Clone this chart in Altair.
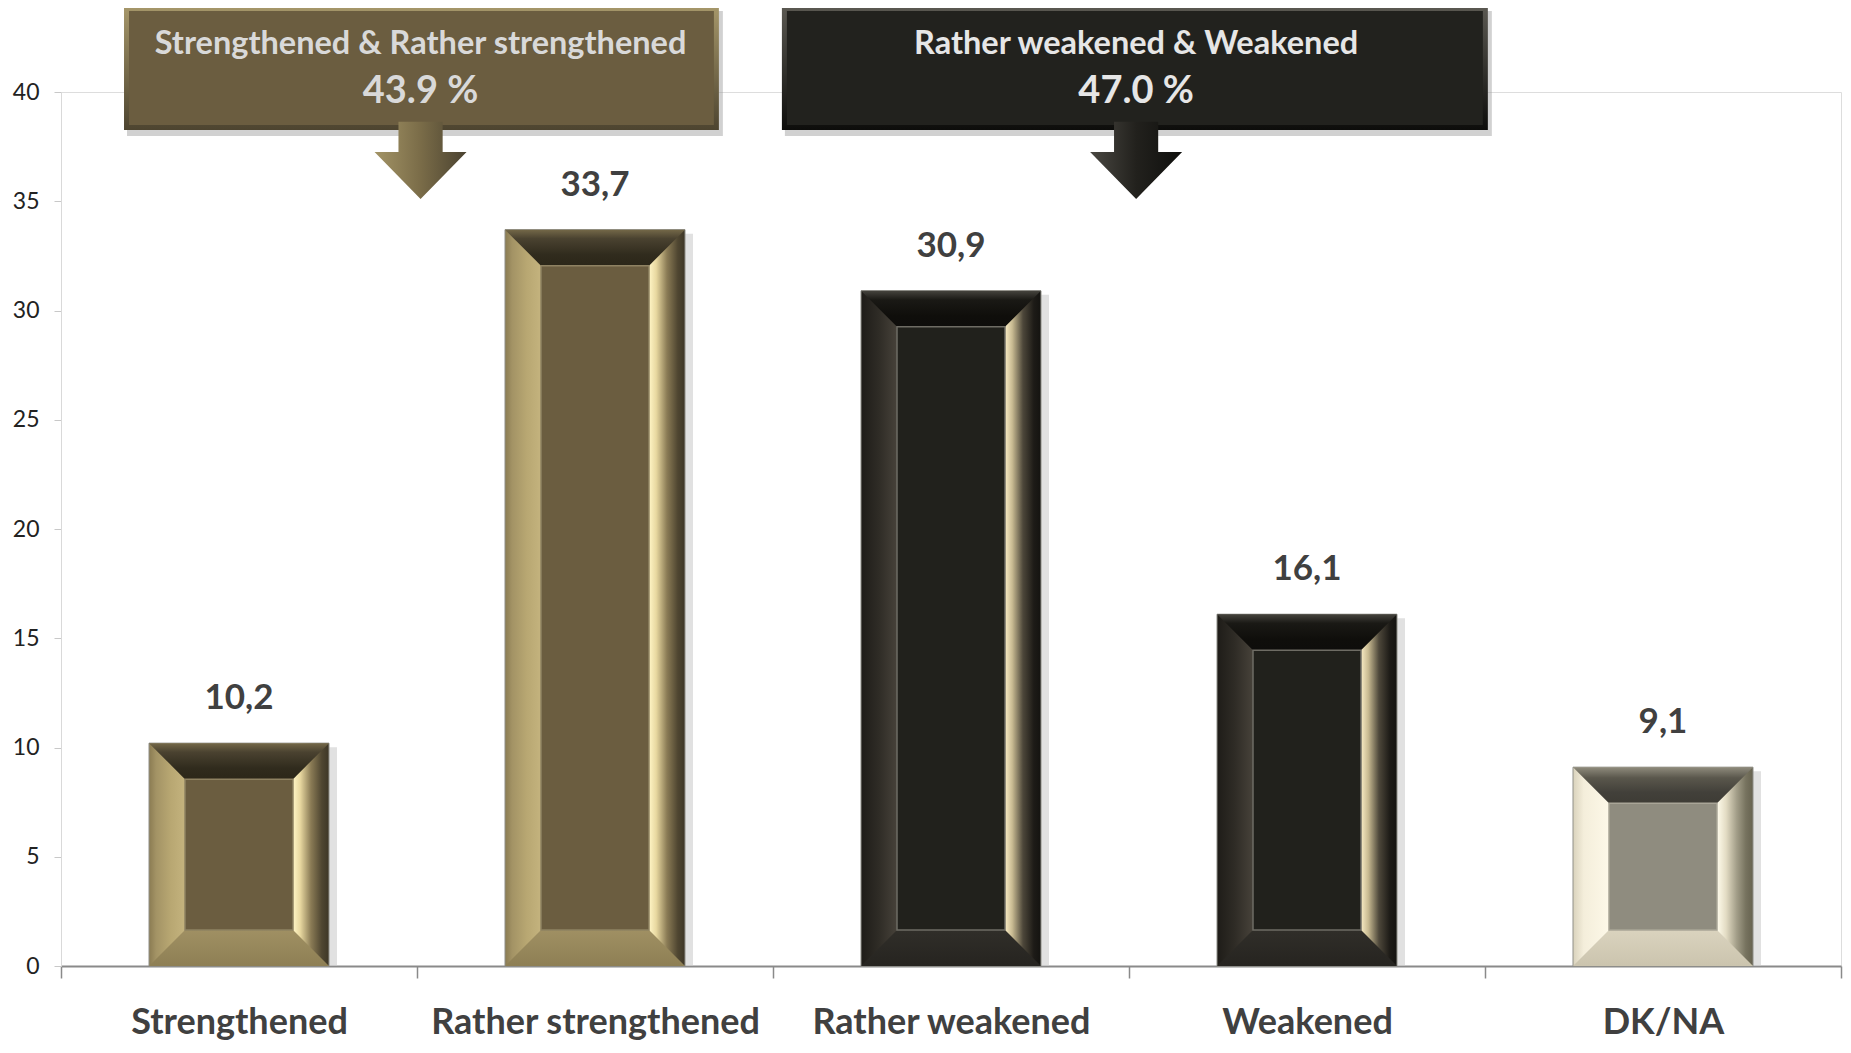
import altair as alt
import pandas as pd

# ---------------- data ----------------
categories = ["Strengthened", "Rather strengthened", "Rather weakened", "Weakened", "DK/NA"]
values = [10.2, 33.7, 30.9, 16.1, 9.1]
groups = ["pos", "pos", "neg", "neg", "dk"]

group_titles = ["Strengthened & Rather strengthened", "Rather weakened & Weakened"]
group_totals = ["43.9 %", "47.0 %"]
group_keys = ["pos", "neg"]

# ---------------- layout constants (in band units / value units) ----------------
BOX_X1 = [0.177, 2.025]
BOX_X2 = [1.848, 4.008]
ARROW_X = [1.01, 3.02]
BOX_TOP, BOX_BOTTOM = 43.94, 38.26
TITLE_Y, TOTAL_Y, ARROW_Y = 42.2, 39.98, 36.87

FONT = "Lato"
BAR_W = 180
INNER_W = 108
FRAME = 36

TOP_PATH = "M -1 0 L 1 0 L 0.6 0.4 L -0.6 0.4 Z"
BOT_PATH = "M -1 0 L 1 0 L 0.6 -0.4 L -0.6 -0.4 Z"
ARROW_PATH = "M -0.48 -0.84 L 0.48 -0.84 L 0.48 -0.18 L 1 -0.18 L 0 0.84 L -1 -0.18 L -0.48 -0.18 Z"


def grad(stops, horizontal=True):
    return alt.LinearGradient(
        gradient="linear",
        stops=[alt.GradientStop(offset=o, color=c) for o, c in stops],
        x1=0, y1=0,
        x2=1 if horizontal else 0,
        y2=0 if horizontal else 1,
    )


BAR_STYLE = {
    "pos": dict(
        side=[(0, "#8a7b52"), (0.04, "#a39365"), (0.12, "#b8a772"), (0.2, "#c4b37e"), (0.5, "#6b5d40"),
              (0.8, "#fff5c6"), (0.84, "#e8d8a0"), (0.9, "#8a7b55"), (0.96, "#4f4631"), (1, "#3d3626")],
        top=[(0, "#746848"), (0.25, "#4a4230"), (0.7, "#302b1d"), (1, "#2c2719")],
        bottom=[(0, "#a09063"), (1, "#8e7f54")],
        inner="#6b5d40", line="#8f8262"),
    "neg": dict(
        side=[(0, "#1e1c18"), (0.1, "#2f2c26"), (0.2, "#47423a"), (0.5, "#21211c"),
              (0.8, "#f8ebc4"), (0.84, "#c9bb92"), (0.9, "#4d473a"), (0.96, "#1d1b17"), (1, "#141310")],
        top=[(0, "#45433d"), (0.25, "#1a1915"), (0.7, "#0f0e0b"), (1, "#0e0d0b")],
        bottom=[(0, "#302e29"), (1, "#262420")],
        inner="#21211c", line="#6e6c64"),
    "dk": dict(
        side=[(0, "#d9d2bc"), (0.06, "#f4eedb"), (0.2, "#fdf8e8"), (0.5, "#8e8b7e"),
              (0.8, "#fffcec"), (0.85, "#e3dcc4"), (0.91, "#a29d88"), (0.96, "#77735f"), (1, "#66624f")],
        top=[(0, "#8f8b7c"), (0.3, "#5a574c"), (0.7, "#42403a"), (1, "#3e3c35")],
        bottom=[(0, "#dad3be"), (1, "#cbc4ae")],
        inner="#8f8c7f", line="#a9a597"),
}

BOX_STYLE = {
    "pos": dict(edge=[(0, "#a6976a"), (1, "#4d4430")], inner="#6b5d40", text="#d9d9d9",
                arrow=[(0, "#a39466"), (0.5, "#7a6c48"), (1, "#4a4230")]),
    "neg": dict(edge=[(0, "#5b5952"), (1, "#0d0d0b")], inner="#22221e", text="#e6e6e6",
                arrow=[(0, "#4a4842"), (0.5, "#22211d"), (1, "#0f0f0d")]),
}

df = pd.DataFrame({"cat": categories, "value": values, "group": groups, "zero": [0] * len(values)})

x_enc = alt.X(
    "cat:N", sort=categories,
    scale=alt.Scale(paddingInner=0, paddingOuter=0),
    axis=alt.Axis(title=None, labelAngle=0, labelFont=FONT, labelFontSize=36, labelFontWeight="bold",
                  labelColor="#404040", labelPadding=44, labelBaseline="middle", labelLimit=600,
                  tickBand="extent", tickSize=12, tickColor="#8a8a8a", tickWidth=1.5,
                  domainColor="#8a8a8a", domainWidth=2),
)
y_axis = alt.Axis(title=None, values=[0, 5, 10, 15, 20, 25, 30, 35, 40], labelFont=FONT, labelFontSize=23,
                  labelColor="#222222", tickSize=7, tickColor="#c8c8c8", domainColor="#d9d9d9",
                  labelPadding=15, grid=False)
y_scale = alt.Scale(domain=[0, 40], nice=False)


def Y(field):
    return alt.Y(f"{field}:Q", scale=y_scale, axis=y_axis)


base = alt.Chart(df)
bar_layers = []
for g, st in BAR_STYLE.items():
    b = base.transform_filter(alt.datum.group == g)
    bar_layers.append(b.mark_bar(size=BAR_W + 4, xOffset=6, yOffset=4, color="#c8c8c8", opacity=0.55)
                      .encode(x=x_enc, y=Y("value"), y2="zero:Q"))
    bar_layers.append(b.mark_bar(size=BAR_W, fill=grad(st["side"]), stroke="#8f8f88", strokeWidth=1)
                      .encode(x=x_enc, y=Y("value"), y2="zero:Q"))
    bar_layers.append(b.mark_point(shape=TOP_PATH, size=BAR_W * BAR_W, filled=True, opacity=1,
                                   fill=grad(st["top"], horizontal=False), strokeWidth=0)
                      .encode(x=x_enc, y=Y("value")))
    bar_layers.append(b.mark_point(shape=BOT_PATH, size=BAR_W * BAR_W, filled=True, opacity=1,
                                   fill=grad(st["bottom"], horizontal=False), strokeWidth=0)
                      .encode(x=x_enc, y=Y("zero")))
    bar_layers.append(b.mark_bar(size=INNER_W, yOffset=FRAME, y2Offset=-FRAME, fill=st["inner"],
                                 stroke=st["line"], strokeWidth=1.5)
                      .encode(x=x_enc, y=Y("value"), y2="zero:Q"))

labels = base.transform_calculate(
    label="replace(format(datum.value, '.1f'), '.', ',')"
).mark_text(dy=-45, font=FONT, fontSize=35, fontWeight="bold", color="#404040", baseline="middle").encode(
    x=x_enc, y=Y("value"), text="label:N")
bar_layers.append(labels)

bars = alt.layer(*bar_layers)

# ---------------- annotations ----------------
ann_df = pd.DataFrame({"title": group_titles, "total": group_totals, "group": group_keys,
                       "x1": BOX_X1, "x2": BOX_X2, "xc": ARROW_X})
xq_scale = alt.Scale(domain=[0, 5], nice=False, zero=False)
ann_base = alt.Chart(ann_df)
ann_layers = []
for g, st in BOX_STYLE.items():
    a = ann_base.transform_filter(alt.datum.group == g)
    box_enc = dict(x=alt.X("x1:Q", scale=xq_scale, axis=None), x2="x2:Q",
                   y=alt.datum(BOX_TOP), y2=alt.datum(BOX_BOTTOM))
    ann_layers.append(a.mark_rect(xOffset=3, x2Offset=4, yOffset=5, y2Offset=6, color="#9a9a9a", opacity=0.45)
                      .encode(**box_enc))
    ann_layers.append(a.mark_rect(fill=grad(st["edge"], horizontal=False)).encode(**box_enc))
    ann_layers.append(a.mark_rect(xOffset=5, x2Offset=-5, yOffset=5, y2Offset=-5, fill=st["inner"])
                      .encode(**box_enc))
    ann_layers.append(a.mark_point(shape=ARROW_PATH, size=92 * 92, filled=True, opacity=1,
                                   fill=grad(st["arrow"]), strokeWidth=0)
                      .encode(x=alt.X("xc:Q", scale=xq_scale, axis=None), y=alt.datum(ARROW_Y)))
    ann_layers.append(a.mark_text(font=FONT, fontSize=32.5, fontWeight="bold", color=st["text"], baseline="middle")
                      .encode(x=alt.X("xc:Q", scale=xq_scale, axis=None), y=alt.datum(TITLE_Y), text="title:N"))
    ann_layers.append(a.mark_text(font=FONT, fontSize=38, fontWeight="bold", color=st["text"], baseline="middle")
                      .encode(x=alt.X("xc:Q", scale=xq_scale, axis=None), y=alt.datum(TOTAL_Y), text="total:N"))

annotations = alt.layer(*ann_layers)

chart = alt.layer(bars, annotations).resolve_scale(x="independent").properties(
    width=1780, height=874,
    autosize=alt.AutoSizeParams(type="none"),
    padding={"left": 53, "top": 84, "right": 2, "bottom": 79},
).configure_view(stroke=None).configure(background="white")

chart.save("out.html", embed_options={"renderer": "svg", "actions": False})
